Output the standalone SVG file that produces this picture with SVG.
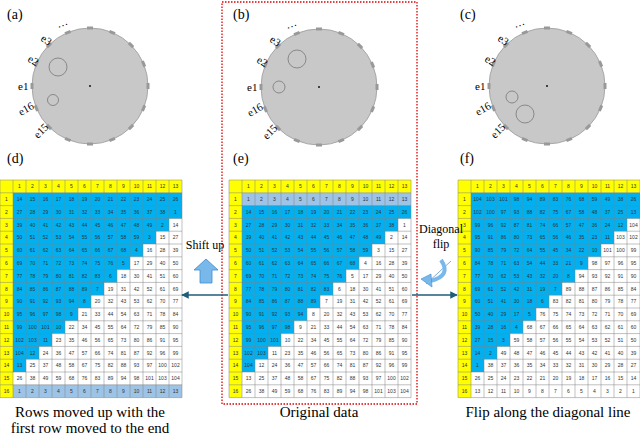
<svg xmlns="http://www.w3.org/2000/svg" xmlns:xlink="http://www.w3.org/1999/xlink" width="640" height="435" viewBox="0 0 640 435">
<style>
.lbl{font:14px "Liberation Serif",serif;fill:#000}
.cap{font:15px "Liberation Serif",serif;fill:#000;text-anchor:middle}
.el{font:11px "Liberation Serif",serif;fill:#000}
.n{font:5px "Liberation Sans",sans-serif;fill:#333;text-anchor:middle}
.head{fill:#c8c8c8;stroke:#9a9a9a;stroke-width:0.8}
.ring{fill:none;stroke:#777;stroke-width:0.8}
.blue{fill:#00b0f0}
.lb{fill:#9dc3e6}
.yel{fill:#ffff00}
.grid{fill:none;stroke:#808080;stroke-width:0.5}
.conn{stroke:#1f5c7a;stroke-width:1.5;fill:none}
</style>
<defs>
<marker id="ah" viewBox="0 0 10 10" refX="9" refY="5" markerWidth="5" markerHeight="5" orient="auto"><path d="M0,0L10,5L0,10z" fill="#1f5c7a"/></marker>
<rect id="m" x="-3" y="-59.5" width="6" height="3" fill="#999"/>
<g id="disc">
<circle class="head" r="58"/>
<use xlink:href="#m"/><use xlink:href="#m" transform="rotate(22.5)"/><use xlink:href="#m" transform="rotate(45)"/><use xlink:href="#m" transform="rotate(67.5)"/><use xlink:href="#m" transform="rotate(90)"/><use xlink:href="#m" transform="rotate(112.5)"/><use xlink:href="#m" transform="rotate(135)"/><use xlink:href="#m" transform="rotate(157.5)"/><use xlink:href="#m" transform="rotate(180)"/><use xlink:href="#m" transform="rotate(202.5)"/><use xlink:href="#m" transform="rotate(225)"/><use xlink:href="#m" transform="rotate(247.5)"/><use xlink:href="#m" transform="rotate(270)"/><use xlink:href="#m" transform="rotate(292.5)"/><use xlink:href="#m" transform="rotate(315)"/><use xlink:href="#m" transform="rotate(337.5)"/>
<circle r="0.9" fill="#000"/>
</g>
<path id="gridp" class="grid" d="M0,0V217.6M13,0V217.6M26,0V217.6M39,0V217.6M52,0V217.6M65,0V217.6M78,0V217.6M91,0V217.6M104,0V217.6M117,0V217.6M130,0V217.6M143,0V217.6M156,0V217.6M169,0V217.6M182,0V217.6M0,0H182M0,12.8H182M0,25.6H182M0,38.4H182M0,51.2H182M0,64H182M0,76.8H182M0,89.6H182M0,102.4H182M0,115.2H182M0,128H182M0,140.8H182M0,153.6H182M0,166.4H182M0,179.2H182M0,192H182M0,204.8H182M0,217.6H182"/>
</defs>
<rect width="640" height="435" fill="#fff"/>

<rect x="222" y="2" width="195" height="402" fill="none" stroke="#e00000" stroke-width="1.3" stroke-dasharray="1.5,1.5"/>

<g id="panel-a">
<text class="lbl" x="7" y="19">(a)</text>
<g transform="translate(90,86)">
<use xlink:href="#disc"/>
<circle class="ring" cx="-32" cy="-19" r="9"/>
<circle class="ring" cx="-37" cy="14" r="5.5"/>
<text class="el" x="-72" y="4">e1</text>
<text class="el" transform="translate(-63,-25) rotate(30)">e2</text>
<text class="el" transform="translate(-50,-46) rotate(35)">e3</text>
<text class="el" transform="translate(-32,-58) rotate(-20)">…</text>
<text class="el" transform="translate(-69,30) rotate(-30)">e16</text>
<text class="el" transform="translate(-52,53) rotate(-45)">e15</text>
</g>
</g>
<g id="panel-b">
<text class="lbl" x="233" y="19">(b)</text>
<g transform="translate(319,87)">
<use xlink:href="#disc"/>
<circle class="ring" cx="-22" cy="-28" r="9"/>
<circle class="ring" cx="-40" cy="0" r="6"/>
<text class="el" x="-72" y="4">e1</text>
<text class="el" transform="translate(-63,-25) rotate(30)">e2</text>
<text class="el" transform="translate(-50,-46) rotate(35)">e3</text>
<text class="el" transform="translate(-32,-58) rotate(-20)">…</text>
<text class="el" transform="translate(-69,30) rotate(-30)">e16</text>
<text class="el" transform="translate(-52,53) rotate(-45)">e15</text>
</g>
</g>
<g id="panel-c">
<text class="lbl" x="460" y="19">(c)</text>
<g transform="translate(547,86)">
<use xlink:href="#disc"/>
<circle class="ring" cx="-35" cy="11" r="6"/>
<circle class="ring" cx="-22" cy="28" r="9"/>
<text class="el" x="-72" y="4">e1</text>
<text class="el" transform="translate(-63,-25) rotate(30)">e2</text>
<text class="el" transform="translate(-50,-46) rotate(35)">e3</text>
<text class="el" transform="translate(-32,-58) rotate(-20)">…</text>
<text class="el" transform="translate(-69,30) rotate(-30)">e16</text>
<text class="el" transform="translate(-52,53) rotate(-45)">e15</text>
</g>
</g>

<g id="table-d">
<text class="lbl" x="7" y="163">(d)</text>
<g transform="translate(0,180)">
<rect class="yel" x="0" y="0" width="182" height="12.8"/><rect class="yel" x="0" y="0" width="13" height="217.6"/>
<polygon class="blue" points="13,12.8 182,12.8 182,38.4 169,38.4 169,51.2 156,51.2 156,64 143,64 143,76.8 130,76.8 130,89.6 117,89.6 117,102.4 104,102.4 104,115.2 91,115.2 91,128 78,128 78,140.8 65,140.8 65,153.6 52,153.6 52,166.4 39,166.4 39,179.2 26,179.2 26,192 13,192"/>
<rect class="lb" x="13" y="204.8" width="169" height="12.8"/>
<use xlink:href="#gridp"/>
<text class="n" y="8.2"><tspan x="19.5">1</tspan><tspan x="32.5">2</tspan><tspan x="45.5">3</tspan><tspan x="58.5">4</tspan><tspan x="71.5">5</tspan><tspan x="84.5">6</tspan><tspan x="97.5">7</tspan><tspan x="110.5">8</tspan><tspan x="123.5">9</tspan><tspan x="136.5">10</tspan><tspan x="149.5">11</tspan><tspan x="162.5">12</tspan><tspan x="175.5">13</tspan></text>
<text class="n" x="6.5"><tspan x="6.5" y="21">1</tspan><tspan x="6.5" y="33.8">2</tspan><tspan x="6.5" y="46.6">3</tspan><tspan x="6.5" y="59.4">4</tspan><tspan x="6.5" y="72.2">5</tspan><tspan x="6.5" y="85">6</tspan><tspan x="6.5" y="97.8">7</tspan><tspan x="6.5" y="110.6">8</tspan><tspan x="6.5" y="123.4">9</tspan><tspan x="6.5" y="136.2">10</tspan><tspan x="6.5" y="149">11</tspan><tspan x="6.5" y="161.8">12</tspan><tspan x="6.5" y="174.6">13</tspan><tspan x="6.5" y="187.4">14</tspan><tspan x="6.5" y="200.2">15</tspan><tspan x="6.5" y="213">16</tspan></text>
<text class="n" y="21"><tspan x="19.5">14</tspan><tspan x="32.5">15</tspan><tspan x="45.5">16</tspan><tspan x="58.5">17</tspan><tspan x="71.5">18</tspan><tspan x="84.5">19</tspan><tspan x="97.5">20</tspan><tspan x="110.5">21</tspan><tspan x="123.5">22</tspan><tspan x="136.5">23</tspan><tspan x="149.5">24</tspan><tspan x="162.5">25</tspan><tspan x="175.5">26</tspan></text>
<text class="n" y="33.8"><tspan x="19.5">27</tspan><tspan x="32.5">28</tspan><tspan x="45.5">29</tspan><tspan x="58.5">30</tspan><tspan x="71.5">31</tspan><tspan x="84.5">32</tspan><tspan x="97.5">33</tspan><tspan x="110.5">34</tspan><tspan x="123.5">35</tspan><tspan x="136.5">36</tspan><tspan x="149.5">37</tspan><tspan x="162.5">38</tspan><tspan x="175.5">1</tspan></text>
<text class="n" y="46.6"><tspan x="19.5">39</tspan><tspan x="32.5">40</tspan><tspan x="45.5">41</tspan><tspan x="58.5">42</tspan><tspan x="71.5">43</tspan><tspan x="84.5">44</tspan><tspan x="97.5">45</tspan><tspan x="110.5">46</tspan><tspan x="123.5">47</tspan><tspan x="136.5">48</tspan><tspan x="149.5">49</tspan><tspan x="162.5">2</tspan><tspan x="175.5">14</tspan></text>
<text class="n" y="59.4"><tspan x="19.5">50</tspan><tspan x="32.5">51</tspan><tspan x="45.5">52</tspan><tspan x="58.5">53</tspan><tspan x="71.5">54</tspan><tspan x="84.5">55</tspan><tspan x="97.5">56</tspan><tspan x="110.5">57</tspan><tspan x="123.5">58</tspan><tspan x="136.5">59</tspan><tspan x="149.5">3</tspan><tspan x="162.5">15</tspan><tspan x="175.5">27</tspan></text>
<text class="n" y="72.2"><tspan x="19.5">60</tspan><tspan x="32.5">61</tspan><tspan x="45.5">62</tspan><tspan x="58.5">63</tspan><tspan x="71.5">64</tspan><tspan x="84.5">65</tspan><tspan x="97.5">66</tspan><tspan x="110.5">67</tspan><tspan x="123.5">68</tspan><tspan x="136.5">4</tspan><tspan x="149.5">16</tspan><tspan x="162.5">28</tspan><tspan x="175.5">39</tspan></text>
<text class="n" y="85"><tspan x="19.5">69</tspan><tspan x="32.5">70</tspan><tspan x="45.5">71</tspan><tspan x="58.5">72</tspan><tspan x="71.5">73</tspan><tspan x="84.5">74</tspan><tspan x="97.5">75</tspan><tspan x="110.5">76</tspan><tspan x="123.5">5</tspan><tspan x="136.5">17</tspan><tspan x="149.5">29</tspan><tspan x="162.5">40</tspan><tspan x="175.5">50</tspan></text>
<text class="n" y="97.8"><tspan x="19.5">77</tspan><tspan x="32.5">78</tspan><tspan x="45.5">79</tspan><tspan x="58.5">80</tspan><tspan x="71.5">81</tspan><tspan x="84.5">82</tspan><tspan x="97.5">83</tspan><tspan x="110.5">6</tspan><tspan x="123.5">18</tspan><tspan x="136.5">30</tspan><tspan x="149.5">41</tspan><tspan x="162.5">51</tspan><tspan x="175.5">60</tspan></text>
<text class="n" y="110.6"><tspan x="19.5">84</tspan><tspan x="32.5">85</tspan><tspan x="45.5">86</tspan><tspan x="58.5">87</tspan><tspan x="71.5">88</tspan><tspan x="84.5">89</tspan><tspan x="97.5">7</tspan><tspan x="110.5">19</tspan><tspan x="123.5">31</tspan><tspan x="136.5">42</tspan><tspan x="149.5">52</tspan><tspan x="162.5">61</tspan><tspan x="175.5">69</tspan></text>
<text class="n" y="123.4"><tspan x="19.5">90</tspan><tspan x="32.5">91</tspan><tspan x="45.5">92</tspan><tspan x="58.5">93</tspan><tspan x="71.5">94</tspan><tspan x="84.5">8</tspan><tspan x="97.5">20</tspan><tspan x="110.5">32</tspan><tspan x="123.5">43</tspan><tspan x="136.5">53</tspan><tspan x="149.5">62</tspan><tspan x="162.5">70</tspan><tspan x="175.5">77</tspan></text>
<text class="n" y="136.2"><tspan x="19.5">95</tspan><tspan x="32.5">96</tspan><tspan x="45.5">97</tspan><tspan x="58.5">98</tspan><tspan x="71.5">9</tspan><tspan x="84.5">21</tspan><tspan x="97.5">33</tspan><tspan x="110.5">44</tspan><tspan x="123.5">54</tspan><tspan x="136.5">63</tspan><tspan x="149.5">71</tspan><tspan x="162.5">78</tspan><tspan x="175.5">84</tspan></text>
<text class="n" y="149"><tspan x="19.5">99</tspan><tspan x="32.5">100</tspan><tspan x="45.5">101</tspan><tspan x="58.5">10</tspan><tspan x="71.5">22</tspan><tspan x="84.5">34</tspan><tspan x="97.5">45</tspan><tspan x="110.5">55</tspan><tspan x="123.5">64</tspan><tspan x="136.5">72</tspan><tspan x="149.5">79</tspan><tspan x="162.5">85</tspan><tspan x="175.5">90</tspan></text>
<text class="n" y="161.8"><tspan x="19.5">102</tspan><tspan x="32.5">103</tspan><tspan x="45.5">11</tspan><tspan x="58.5">23</tspan><tspan x="71.5">35</tspan><tspan x="84.5">46</tspan><tspan x="97.5">56</tspan><tspan x="110.5">65</tspan><tspan x="123.5">73</tspan><tspan x="136.5">80</tspan><tspan x="149.5">86</tspan><tspan x="162.5">91</tspan><tspan x="175.5">95</tspan></text>
<text class="n" y="174.6"><tspan x="19.5">104</tspan><tspan x="32.5">12</tspan><tspan x="45.5">24</tspan><tspan x="58.5">36</tspan><tspan x="71.5">47</tspan><tspan x="84.5">57</tspan><tspan x="97.5">66</tspan><tspan x="110.5">74</tspan><tspan x="123.5">81</tspan><tspan x="136.5">87</tspan><tspan x="149.5">92</tspan><tspan x="162.5">96</tspan><tspan x="175.5">99</tspan></text>
<text class="n" y="187.4"><tspan x="19.5">13</tspan><tspan x="32.5">25</tspan><tspan x="45.5">37</tspan><tspan x="58.5">48</tspan><tspan x="71.5">58</tspan><tspan x="84.5">67</tspan><tspan x="97.5">75</tspan><tspan x="110.5">82</tspan><tspan x="123.5">88</tspan><tspan x="136.5">93</tspan><tspan x="149.5">97</tspan><tspan x="162.5">100</tspan><tspan x="175.5">102</tspan></text>
<text class="n" y="200.2"><tspan x="19.5">26</tspan><tspan x="32.5">38</tspan><tspan x="45.5">49</tspan><tspan x="58.5">59</tspan><tspan x="71.5">68</tspan><tspan x="84.5">76</tspan><tspan x="97.5">83</tspan><tspan x="110.5">89</tspan><tspan x="123.5">94</tspan><tspan x="136.5">98</tspan><tspan x="149.5">101</tspan><tspan x="162.5">103</tspan><tspan x="175.5">104</tspan></text>
<text class="n" y="213"><tspan x="19.5">1</tspan><tspan x="32.5">2</tspan><tspan x="45.5">3</tspan><tspan x="58.5">4</tspan><tspan x="71.5">5</tspan><tspan x="84.5">6</tspan><tspan x="97.5">7</tspan><tspan x="110.5">8</tspan><tspan x="123.5">9</tspan><tspan x="136.5">10</tspan><tspan x="149.5">11</tspan><tspan x="162.5">12</tspan><tspan x="175.5">13</tspan></text>
</g>
<text class="cap" x="90" y="417">Rows moved up with the</text>
<text class="cap" x="90" y="433">first row moved to the end</text>
</g>

<g id="table-e">
<text class="lbl" x="233" y="163">(e)</text>
<g transform="translate(229,180)">
<rect class="yel" x="0" y="0" width="182" height="12.8"/><rect class="yel" x="0" y="0" width="13" height="217.6"/>
<rect class="lb" x="13" y="12.8" width="169" height="12.8"/>
<polygon class="blue" points="13,25.6 182,25.6 182,38.4 169,38.4 169,51.2 156,51.2 156,64 143,64 143,76.8 130,76.8 130,89.6 117,89.6 117,102.4 104,102.4 104,115.2 91,115.2 91,128 78,128 78,140.8 65,140.8 65,153.6 52,153.6 52,166.4 39,166.4 39,179.2 26,179.2 26,192 13,192"/>
<use xlink:href="#gridp"/>
<text class="n" y="8.2"><tspan x="19.5">1</tspan><tspan x="32.5">2</tspan><tspan x="45.5">3</tspan><tspan x="58.5">4</tspan><tspan x="71.5">5</tspan><tspan x="84.5">6</tspan><tspan x="97.5">7</tspan><tspan x="110.5">8</tspan><tspan x="123.5">9</tspan><tspan x="136.5">10</tspan><tspan x="149.5">11</tspan><tspan x="162.5">12</tspan><tspan x="175.5">13</tspan></text>
<text class="n" x="6.5"><tspan x="6.5" y="21">1</tspan><tspan x="6.5" y="33.8">2</tspan><tspan x="6.5" y="46.6">3</tspan><tspan x="6.5" y="59.4">4</tspan><tspan x="6.5" y="72.2">5</tspan><tspan x="6.5" y="85">6</tspan><tspan x="6.5" y="97.8">7</tspan><tspan x="6.5" y="110.6">8</tspan><tspan x="6.5" y="123.4">9</tspan><tspan x="6.5" y="136.2">10</tspan><tspan x="6.5" y="149">11</tspan><tspan x="6.5" y="161.8">12</tspan><tspan x="6.5" y="174.6">13</tspan><tspan x="6.5" y="187.4">14</tspan><tspan x="6.5" y="200.2">15</tspan><tspan x="6.5" y="213">16</tspan></text>
<text class="n" y="21"><tspan x="19.5">1</tspan><tspan x="32.5">2</tspan><tspan x="45.5">3</tspan><tspan x="58.5">4</tspan><tspan x="71.5">5</tspan><tspan x="84.5">6</tspan><tspan x="97.5">7</tspan><tspan x="110.5">8</tspan><tspan x="123.5">9</tspan><tspan x="136.5">10</tspan><tspan x="149.5">11</tspan><tspan x="162.5">12</tspan><tspan x="175.5">13</tspan></text>
<text class="n" y="33.8"><tspan x="19.5">14</tspan><tspan x="32.5">15</tspan><tspan x="45.5">16</tspan><tspan x="58.5">17</tspan><tspan x="71.5">18</tspan><tspan x="84.5">19</tspan><tspan x="97.5">20</tspan><tspan x="110.5">21</tspan><tspan x="123.5">22</tspan><tspan x="136.5">23</tspan><tspan x="149.5">24</tspan><tspan x="162.5">25</tspan><tspan x="175.5">26</tspan></text>
<text class="n" y="46.6"><tspan x="19.5">27</tspan><tspan x="32.5">28</tspan><tspan x="45.5">29</tspan><tspan x="58.5">30</tspan><tspan x="71.5">31</tspan><tspan x="84.5">32</tspan><tspan x="97.5">33</tspan><tspan x="110.5">34</tspan><tspan x="123.5">35</tspan><tspan x="136.5">36</tspan><tspan x="149.5">37</tspan><tspan x="162.5">38</tspan><tspan x="175.5">1</tspan></text>
<text class="n" y="59.4"><tspan x="19.5">39</tspan><tspan x="32.5">40</tspan><tspan x="45.5">41</tspan><tspan x="58.5">42</tspan><tspan x="71.5">43</tspan><tspan x="84.5">44</tspan><tspan x="97.5">45</tspan><tspan x="110.5">46</tspan><tspan x="123.5">47</tspan><tspan x="136.5">48</tspan><tspan x="149.5">49</tspan><tspan x="162.5">2</tspan><tspan x="175.5">14</tspan></text>
<text class="n" y="72.2"><tspan x="19.5">50</tspan><tspan x="32.5">51</tspan><tspan x="45.5">52</tspan><tspan x="58.5">53</tspan><tspan x="71.5">54</tspan><tspan x="84.5">55</tspan><tspan x="97.5">56</tspan><tspan x="110.5">57</tspan><tspan x="123.5">58</tspan><tspan x="136.5">59</tspan><tspan x="149.5">3</tspan><tspan x="162.5">15</tspan><tspan x="175.5">27</tspan></text>
<text class="n" y="85"><tspan x="19.5">60</tspan><tspan x="32.5">61</tspan><tspan x="45.5">62</tspan><tspan x="58.5">63</tspan><tspan x="71.5">64</tspan><tspan x="84.5">65</tspan><tspan x="97.5">66</tspan><tspan x="110.5">67</tspan><tspan x="123.5">68</tspan><tspan x="136.5">4</tspan><tspan x="149.5">16</tspan><tspan x="162.5">28</tspan><tspan x="175.5">39</tspan></text>
<text class="n" y="97.8"><tspan x="19.5">69</tspan><tspan x="32.5">70</tspan><tspan x="45.5">71</tspan><tspan x="58.5">72</tspan><tspan x="71.5">73</tspan><tspan x="84.5">74</tspan><tspan x="97.5">75</tspan><tspan x="110.5">76</tspan><tspan x="123.5">5</tspan><tspan x="136.5">17</tspan><tspan x="149.5">29</tspan><tspan x="162.5">40</tspan><tspan x="175.5">50</tspan></text>
<text class="n" y="110.6"><tspan x="19.5">77</tspan><tspan x="32.5">78</tspan><tspan x="45.5">79</tspan><tspan x="58.5">80</tspan><tspan x="71.5">81</tspan><tspan x="84.5">82</tspan><tspan x="97.5">83</tspan><tspan x="110.5">6</tspan><tspan x="123.5">18</tspan><tspan x="136.5">30</tspan><tspan x="149.5">41</tspan><tspan x="162.5">51</tspan><tspan x="175.5">60</tspan></text>
<text class="n" y="123.4"><tspan x="19.5">84</tspan><tspan x="32.5">85</tspan><tspan x="45.5">86</tspan><tspan x="58.5">87</tspan><tspan x="71.5">88</tspan><tspan x="84.5">89</tspan><tspan x="97.5">7</tspan><tspan x="110.5">19</tspan><tspan x="123.5">31</tspan><tspan x="136.5">42</tspan><tspan x="149.5">52</tspan><tspan x="162.5">61</tspan><tspan x="175.5">69</tspan></text>
<text class="n" y="136.2"><tspan x="19.5">90</tspan><tspan x="32.5">91</tspan><tspan x="45.5">92</tspan><tspan x="58.5">93</tspan><tspan x="71.5">94</tspan><tspan x="84.5">8</tspan><tspan x="97.5">20</tspan><tspan x="110.5">32</tspan><tspan x="123.5">43</tspan><tspan x="136.5">53</tspan><tspan x="149.5">62</tspan><tspan x="162.5">70</tspan><tspan x="175.5">77</tspan></text>
<text class="n" y="149"><tspan x="19.5">95</tspan><tspan x="32.5">96</tspan><tspan x="45.5">97</tspan><tspan x="58.5">98</tspan><tspan x="71.5">9</tspan><tspan x="84.5">21</tspan><tspan x="97.5">33</tspan><tspan x="110.5">44</tspan><tspan x="123.5">54</tspan><tspan x="136.5">63</tspan><tspan x="149.5">71</tspan><tspan x="162.5">78</tspan><tspan x="175.5">84</tspan></text>
<text class="n" y="161.8"><tspan x="19.5">99</tspan><tspan x="32.5">100</tspan><tspan x="45.5">101</tspan><tspan x="58.5">10</tspan><tspan x="71.5">22</tspan><tspan x="84.5">34</tspan><tspan x="97.5">45</tspan><tspan x="110.5">55</tspan><tspan x="123.5">64</tspan><tspan x="136.5">72</tspan><tspan x="149.5">79</tspan><tspan x="162.5">85</tspan><tspan x="175.5">90</tspan></text>
<text class="n" y="174.6"><tspan x="19.5">102</tspan><tspan x="32.5">103</tspan><tspan x="45.5">11</tspan><tspan x="58.5">23</tspan><tspan x="71.5">35</tspan><tspan x="84.5">46</tspan><tspan x="97.5">56</tspan><tspan x="110.5">65</tspan><tspan x="123.5">73</tspan><tspan x="136.5">80</tspan><tspan x="149.5">86</tspan><tspan x="162.5">91</tspan><tspan x="175.5">95</tspan></text>
<text class="n" y="187.4"><tspan x="19.5">104</tspan><tspan x="32.5">12</tspan><tspan x="45.5">24</tspan><tspan x="58.5">36</tspan><tspan x="71.5">47</tspan><tspan x="84.5">57</tspan><tspan x="97.5">66</tspan><tspan x="110.5">74</tspan><tspan x="123.5">81</tspan><tspan x="136.5">87</tspan><tspan x="149.5">92</tspan><tspan x="162.5">96</tspan><tspan x="175.5">99</tspan></text>
<text class="n" y="200.2"><tspan x="19.5">13</tspan><tspan x="32.5">25</tspan><tspan x="45.5">37</tspan><tspan x="58.5">48</tspan><tspan x="71.5">58</tspan><tspan x="84.5">67</tspan><tspan x="97.5">75</tspan><tspan x="110.5">82</tspan><tspan x="123.5">88</tspan><tspan x="136.5">93</tspan><tspan x="149.5">97</tspan><tspan x="162.5">100</tspan><tspan x="175.5">102</tspan></text>
<text class="n" y="213"><tspan x="19.5">26</tspan><tspan x="32.5">38</tspan><tspan x="45.5">49</tspan><tspan x="58.5">59</tspan><tspan x="71.5">68</tspan><tspan x="84.5">76</tspan><tspan x="97.5">83</tspan><tspan x="110.5">89</tspan><tspan x="123.5">94</tspan><tspan x="136.5">98</tspan><tspan x="149.5">101</tspan><tspan x="162.5">103</tspan><tspan x="175.5">104</tspan></text>
</g>
<text class="cap" x="319" y="417">Original data</text>
</g>

<g id="table-f">
<text class="lbl" x="460" y="163">(f)</text>
<g transform="translate(458,180)">
<rect class="yel" x="0" y="0" width="182" height="12.8"/><rect class="yel" x="0" y="0" width="13" height="217.6"/>
<polygon class="blue" points="13,12.8 182,12.8 182,38.4 169,38.4 169,51.2 156,51.2 156,64 143,64 143,76.8 130,76.8 130,89.6 117,89.6 117,102.4 104,102.4 104,115.2 91,115.2 91,128 78,128 78,140.8 65,140.8 65,153.6 52,153.6 52,166.4 39,166.4 39,179.2 26,179.2 26,192 13,192"/>
<use xlink:href="#gridp"/>
<text class="n" y="8.2"><tspan x="19.5">1</tspan><tspan x="32.5">2</tspan><tspan x="45.5">3</tspan><tspan x="58.5">4</tspan><tspan x="71.5">5</tspan><tspan x="84.5">6</tspan><tspan x="97.5">7</tspan><tspan x="110.5">8</tspan><tspan x="123.5">9</tspan><tspan x="136.5">10</tspan><tspan x="149.5">11</tspan><tspan x="162.5">12</tspan><tspan x="175.5">13</tspan></text>
<text class="n" x="6.5"><tspan x="6.5" y="21">1</tspan><tspan x="6.5" y="33.8">2</tspan><tspan x="6.5" y="46.6">3</tspan><tspan x="6.5" y="59.4">4</tspan><tspan x="6.5" y="72.2">5</tspan><tspan x="6.5" y="85">6</tspan><tspan x="6.5" y="97.8">7</tspan><tspan x="6.5" y="110.6">8</tspan><tspan x="6.5" y="123.4">9</tspan><tspan x="6.5" y="136.2">10</tspan><tspan x="6.5" y="149">11</tspan><tspan x="6.5" y="161.8">12</tspan><tspan x="6.5" y="174.6">13</tspan><tspan x="6.5" y="187.4">14</tspan><tspan x="6.5" y="200.2">15</tspan><tspan x="6.5" y="213">16</tspan></text>
<text class="n" y="21"><tspan x="19.5">104</tspan><tspan x="32.5">103</tspan><tspan x="45.5">101</tspan><tspan x="58.5">98</tspan><tspan x="71.5">94</tspan><tspan x="84.5">89</tspan><tspan x="97.5">83</tspan><tspan x="110.5">76</tspan><tspan x="123.5">68</tspan><tspan x="136.5">59</tspan><tspan x="149.5">49</tspan><tspan x="162.5">38</tspan><tspan x="175.5">26</tspan></text>
<text class="n" y="33.8"><tspan x="19.5">102</tspan><tspan x="32.5">100</tspan><tspan x="45.5">97</tspan><tspan x="58.5">93</tspan><tspan x="71.5">88</tspan><tspan x="84.5">82</tspan><tspan x="97.5">75</tspan><tspan x="110.5">67</tspan><tspan x="123.5">58</tspan><tspan x="136.5">48</tspan><tspan x="149.5">37</tspan><tspan x="162.5">25</tspan><tspan x="175.5">13</tspan></text>
<text class="n" y="46.6"><tspan x="19.5">99</tspan><tspan x="32.5">96</tspan><tspan x="45.5">92</tspan><tspan x="58.5">87</tspan><tspan x="71.5">81</tspan><tspan x="84.5">74</tspan><tspan x="97.5">66</tspan><tspan x="110.5">57</tspan><tspan x="123.5">47</tspan><tspan x="136.5">36</tspan><tspan x="149.5">24</tspan><tspan x="162.5">12</tspan><tspan x="175.5">104</tspan></text>
<text class="n" y="59.4"><tspan x="19.5">95</tspan><tspan x="32.5">91</tspan><tspan x="45.5">86</tspan><tspan x="58.5">80</tspan><tspan x="71.5">73</tspan><tspan x="84.5">65</tspan><tspan x="97.5">56</tspan><tspan x="110.5">46</tspan><tspan x="123.5">35</tspan><tspan x="136.5">23</tspan><tspan x="149.5">11</tspan><tspan x="162.5">103</tspan><tspan x="175.5">102</tspan></text>
<text class="n" y="72.2"><tspan x="19.5">90</tspan><tspan x="32.5">85</tspan><tspan x="45.5">79</tspan><tspan x="58.5">72</tspan><tspan x="71.5">64</tspan><tspan x="84.5">55</tspan><tspan x="97.5">45</tspan><tspan x="110.5">34</tspan><tspan x="123.5">22</tspan><tspan x="136.5">10</tspan><tspan x="149.5">101</tspan><tspan x="162.5">100</tspan><tspan x="175.5">99</tspan></text>
<text class="n" y="85"><tspan x="19.5">84</tspan><tspan x="32.5">78</tspan><tspan x="45.5">71</tspan><tspan x="58.5">63</tspan><tspan x="71.5">54</tspan><tspan x="84.5">44</tspan><tspan x="97.5">33</tspan><tspan x="110.5">21</tspan><tspan x="123.5">9</tspan><tspan x="136.5">98</tspan><tspan x="149.5">97</tspan><tspan x="162.5">96</tspan><tspan x="175.5">95</tspan></text>
<text class="n" y="97.8"><tspan x="19.5">77</tspan><tspan x="32.5">70</tspan><tspan x="45.5">62</tspan><tspan x="58.5">53</tspan><tspan x="71.5">43</tspan><tspan x="84.5">32</tspan><tspan x="97.5">20</tspan><tspan x="110.5">8</tspan><tspan x="123.5">94</tspan><tspan x="136.5">93</tspan><tspan x="149.5">92</tspan><tspan x="162.5">91</tspan><tspan x="175.5">90</tspan></text>
<text class="n" y="110.6"><tspan x="19.5">69</tspan><tspan x="32.5">61</tspan><tspan x="45.5">52</tspan><tspan x="58.5">42</tspan><tspan x="71.5">31</tspan><tspan x="84.5">19</tspan><tspan x="97.5">7</tspan><tspan x="110.5">89</tspan><tspan x="123.5">88</tspan><tspan x="136.5">87</tspan><tspan x="149.5">86</tspan><tspan x="162.5">85</tspan><tspan x="175.5">84</tspan></text>
<text class="n" y="123.4"><tspan x="19.5">60</tspan><tspan x="32.5">51</tspan><tspan x="45.5">41</tspan><tspan x="58.5">30</tspan><tspan x="71.5">18</tspan><tspan x="84.5">6</tspan><tspan x="97.5">83</tspan><tspan x="110.5">82</tspan><tspan x="123.5">81</tspan><tspan x="136.5">80</tspan><tspan x="149.5">79</tspan><tspan x="162.5">78</tspan><tspan x="175.5">77</tspan></text>
<text class="n" y="136.2"><tspan x="19.5">50</tspan><tspan x="32.5">40</tspan><tspan x="45.5">29</tspan><tspan x="58.5">17</tspan><tspan x="71.5">5</tspan><tspan x="84.5">76</tspan><tspan x="97.5">75</tspan><tspan x="110.5">74</tspan><tspan x="123.5">73</tspan><tspan x="136.5">72</tspan><tspan x="149.5">71</tspan><tspan x="162.5">70</tspan><tspan x="175.5">69</tspan></text>
<text class="n" y="149"><tspan x="19.5">39</tspan><tspan x="32.5">28</tspan><tspan x="45.5">16</tspan><tspan x="58.5">4</tspan><tspan x="71.5">68</tspan><tspan x="84.5">67</tspan><tspan x="97.5">66</tspan><tspan x="110.5">65</tspan><tspan x="123.5">64</tspan><tspan x="136.5">63</tspan><tspan x="149.5">62</tspan><tspan x="162.5">61</tspan><tspan x="175.5">60</tspan></text>
<text class="n" y="161.8"><tspan x="19.5">27</tspan><tspan x="32.5">15</tspan><tspan x="45.5">3</tspan><tspan x="58.5">59</tspan><tspan x="71.5">58</tspan><tspan x="84.5">57</tspan><tspan x="97.5">56</tspan><tspan x="110.5">55</tspan><tspan x="123.5">54</tspan><tspan x="136.5">53</tspan><tspan x="149.5">52</tspan><tspan x="162.5">51</tspan><tspan x="175.5">50</tspan></text>
<text class="n" y="174.6"><tspan x="19.5">14</tspan><tspan x="32.5">2</tspan><tspan x="45.5">49</tspan><tspan x="58.5">48</tspan><tspan x="71.5">47</tspan><tspan x="84.5">46</tspan><tspan x="97.5">45</tspan><tspan x="110.5">44</tspan><tspan x="123.5">43</tspan><tspan x="136.5">42</tspan><tspan x="149.5">41</tspan><tspan x="162.5">40</tspan><tspan x="175.5">39</tspan></text>
<text class="n" y="187.4"><tspan x="19.5">1</tspan><tspan x="32.5">38</tspan><tspan x="45.5">37</tspan><tspan x="58.5">36</tspan><tspan x="71.5">35</tspan><tspan x="84.5">34</tspan><tspan x="97.5">33</tspan><tspan x="110.5">32</tspan><tspan x="123.5">31</tspan><tspan x="136.5">30</tspan><tspan x="149.5">29</tspan><tspan x="162.5">28</tspan><tspan x="175.5">27</tspan></text>
<text class="n" y="200.2"><tspan x="19.5">26</tspan><tspan x="32.5">25</tspan><tspan x="45.5">24</tspan><tspan x="58.5">23</tspan><tspan x="71.5">22</tspan><tspan x="84.5">21</tspan><tspan x="97.5">20</tspan><tspan x="110.5">19</tspan><tspan x="123.5">18</tspan><tspan x="136.5">17</tspan><tspan x="149.5">16</tspan><tspan x="162.5">15</tspan><tspan x="175.5">14</tspan></text>
<text class="n" y="213"><tspan x="19.5">13</tspan><tspan x="32.5">12</tspan><tspan x="45.5">11</tspan><tspan x="58.5">10</tspan><tspan x="71.5">9</tspan><tspan x="84.5">8</tspan><tspan x="97.5">7</tspan><tspan x="110.5">6</tspan><tspan x="123.5">5</tspan><tspan x="136.5">4</tspan><tspan x="149.5">3</tspan><tspan x="162.5">2</tspan><tspan x="175.5">1</tspan></text>
</g>
<text class="cap" x="548" y="417">Flip along the diagonal line</text>
</g>

<g id="connectors">
<line class="conn" x1="228" y1="295" x2="182" y2="295" marker-end="url(#ah)"/>
<line class="conn" x1="412" y1="295" x2="457" y2="295" marker-end="url(#ah)"/>
</g>
<g id="shift-up">
<text x="205" y="249" style="font:12px 'Liberation Serif',serif;text-anchor:middle">Shift up</text>
<polygon points="206,259 218,270 212,270 212,283 200,283 200,270 194,270" fill="#79b8ea" stroke="#3c8dd0" stroke-width="0.8"/>
</g>
<g id="diag-flip">
<text x="441" y="233" style="font:12px 'Liberation Serif',serif;text-anchor:middle">Diagonal</text>
<text x="441" y="248" style="font:12px 'Liberation Serif',serif;text-anchor:middle">flip</text>
<line x1="426" y1="284" x2="451" y2="261" stroke="#5b9bd5" stroke-width="0.8"/>
<path d="M441,260 Q452,276 430,281" fill="none" stroke="#79b8ea" stroke-width="4"/>
<polygon points="421,279 431,274 432,287" fill="#79b8ea" stroke="#3c8dd0" stroke-width="0.6"/>
</g>
</svg>
